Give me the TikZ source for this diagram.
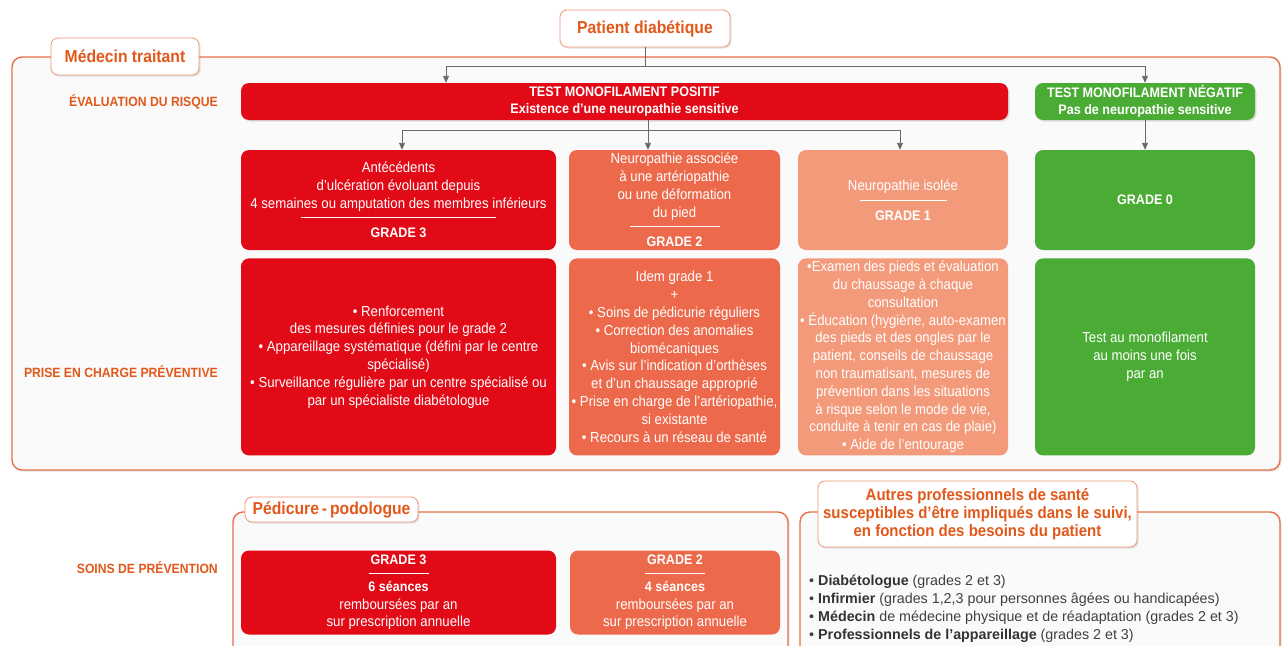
\documentclass[tikz,border=0pt]{standalone}
\usepackage{fontspec}
\setmainfont{Liberation Sans}[FakeStretch=0.91]
\newfontfamily\listfont{Liberation Sans}
\usetikzlibrary{arrows.meta,positioning,shadows}
\definecolor{g3color}{RGB}{226,10,22}
\definecolor{g2color}{RGB}{237,105,75}
\definecolor{g1color}{RGB}{243,154,123}
\definecolor{g0color}{RGB}{74,172,52}
\definecolor{titlecolor}{RGB}{226,88,26}
\definecolor{framecolor}{RGB}{232,112,72}
\definecolor{linkcolor}{RGB}{105,105,105}
\definecolor{listcolor}{RGB}{64,64,64}
\newcommand{\boxfont}{\fontsize{14.5}{17.8}\selectfont}
\newcommand{\sepline}[1]{\textcolor{white}{\rule[2pt]{#1pt}{0.7pt}}}
\newcommand{\grade}[1]{{\bfseries\fontsize{13.8}{17.8}\selectfont #1}}
\newcommand{\who}[1]{\textbf{\textcolor{black!80}{#1}}}

\begin{document}
\begin{tikzpicture}[
    x=1pt, y=-1pt,
    softshadow/.style={drop shadow={shadow xshift=1.5pt, shadow yshift=-1.5pt, opacity=0.22}},
    frame/.style={draw=framecolor, line width=1.4pt, rounded corners=10pt, fill=black!2, softshadow},
    tag/.style={draw=framecolor!75, line width=0.8pt, fill=white, rounded corners=7pt, text=titlecolor, font=\bfseries\fontsize{17.3}{20}\selectfont, align=center, inner sep=0pt, softshadow},
    bar/.style={rounded corners=8pt, text=white, font=\bfseries\fontsize{13.8}{17}\selectfont, align=center, minimum height=37pt, inner sep=0pt, softshadow},
    gradebox/.style={rounded corners=8pt, text=white, font=\boxfont, align=center, inner sep=0pt},
    stage/.style={text=titlecolor, font=\bfseries\fontsize{13.4}{15}\selectfont, anchor=east, inner sep=0pt},
    link/.style={draw=linkcolor, line width=0.9pt},
    arrow/.style={link, -{Triangle[length=7pt,width=6pt]}}
]
    \fill[white] (0,0) rectangle (1284,645);
    \useasboundingbox (0,0) rectangle (1284,645);
    \clip (0,0) rectangle (1284,645);

    % frames
    \draw[frame] (12,57) rectangle (1280,470);
    \draw[frame] (233,512) rectangle (788,680);
    \draw[frame] (800,512) rectangle (1280,680);

    % tags
    \node[tag, minimum width=170pt, minimum height=37pt] (patient) at (645,28.5) {Patient diabétique};
    \node[tag, minimum width=148pt, minimum height=37pt] (medecin) at (125,56.5) {Médecin traitant};
    \node[tag, minimum width=173pt, minimum height=25pt] (pedicure) at (331.5,509.5) {Pédicure\,-\,podologue};
    \node[tag, minimum width=319pt, minimum height=66pt, font=\bfseries\fontsize{16.5}{18}\selectfont] (autres) at (977.5,514)
        {Autres professionnels de santé\\susceptibles d’être impliqués dans le suivi,\\en fonction des besoins du patient};

    % stages
    \node[stage] (evaluation) at (218,102) {ÉVALUATION DU RISQUE};
    \node[stage] (prise) at (218,372) {PRISE EN CHARGE PRÉVENTIVE};
    \node[stage] (soins) at (218,568) {SOINS DE PRÉVENTION};

    % monofilament test
    \node[bar, fill=g3color, minimum width=767pt] (posbar) at (624.5,101.5)
        {TEST MONOFILAMENT POSITIF\\Existence d'une neuropathie sensitive};
    \node[bar, fill=g0color, minimum width=220pt] (negbar) at (1145,101.5)
        {TEST MONOFILAMENT NÉGATIF\\Pas de neuropathie sensitive};

    % grades
    \node[gradebox, fill=g3color, minimum width=315pt, minimum height=100pt] (g3) at (398.5,200)
        {Antécédents\\d'ulcération évoluant depuis\\4 semaines ou amputation des membres inférieurs\\[-6pt]\sepline{195}\\\grade{GRADE 3}};
    \node[gradebox, fill=g2color, minimum width=211pt, minimum height=100pt] (g2) at (674.5,200)
        {Neuropathie associée\\à une artériopathie\\ou une déformation\\du pied\\[-6pt]\sepline{90}\\\grade{GRADE 2}};
    \node[gradebox, fill=g1color, minimum width=210pt, minimum height=100pt] (g1) at (903,200)
        {Neuropathie isolée\\[-6pt]\sepline{87}\\\grade{GRADE 1}};
    \node[gradebox, fill=g0color, minimum width=220pt, minimum height=100pt] (g0) at (1145,200) {\grade{GRADE 0}};

    % preventive care
    \node[gradebox, fill=g3color, minimum width=315pt, minimum height=197pt, below=8pt of g3] (care3)
        {• Renforcement\\des mesures définies pour le grade 2\\• Appareillage systématique (défini par le centre\\spécialisé)\\• Surveillance régulière par un centre spécialisé ou\\par un spécialiste diabétologue};
    \node[gradebox, fill=g2color, minimum width=211pt, minimum height=197pt, below=8pt of g2] (care2)
        {Idem grade 1\\+\\• Soins de pédicurie réguliers\\• Correction des anomalies\\biomécaniques\\• Avis sur l'indication d'orthèses\\et d'un chaussage approprié\\• Prise en charge de l'artériopathie,\\si existante\\• Recours à un réseau de santé};
    \node[gradebox, fill=g1color, minimum width=210pt, minimum height=197pt, below=8pt of g1] (care1)
        {•Examen des pieds et évaluation\\du chaussage à chaque\\consultation\\• Éducation (hygiène, auto-examen\\des pieds et des ongles par le\\patient, conseils de chaussage\\non traumatisant, mesures de\\prévention dans les situations\\à risque selon le mode de vie,\\conduite à tenir en cas de plaie)\\• Aide de l'entourage};
    \node[gradebox, fill=g0color, minimum width=220pt, minimum height=197pt, below=8pt of g0] (care0)
        {Test au monofilament\\au moins une fois\\par an};

    % podiatry sessions
    \node[gradebox, fill=g3color, minimum width=315pt, minimum height=84pt] (pod3) at (398.5,592.5)
        {\grade{GRADE 3}\\[-7pt]\sepline{60}\\[-2pt]\grade{6 séances}\\remboursées par an\\sur prescription annuelle};
    \node[gradebox, fill=g2color, minimum width=210pt, minimum height=84pt] (pod2) at (675,592.5)
        {\grade{GRADE 2}\\[-7pt]\sepline{60}\\[-2pt]\grade{4 séances}\\remboursées par an\\sur prescription annuelle};

    % other professionals
    \node[anchor=north west, align=left, text=listcolor, font=\listfont\fontsize{14.3}{18}\selectfont, inner sep=0pt] (autreslist) at (809,575)
        {• \who{Diabétologue} (grades 2 et 3)\\• \who{Infirmier} (grades 1,2,3 pour personnes âgées ou handicapées)\\• \who{Médecin} de médecine physique et de réadaptation (grades 2 et 3)\\• \who{Professionnels de l’appareillage} (grades 2 et 3)};

    % connectors
    \coordinate (hub1) at (645,66);
    \coordinate (hub2) at (648,130);
    \draw[link] (patient) -- (hub1);
    \draw[arrow] (hub1) -| ([xshift=-178.5pt]posbar.north);
    \draw[arrow] (hub1) -| (negbar.north);
    \draw[link] (posbar.south -| hub2) -- (hub2);
    \draw[arrow] (hub2) -| ([xshift=3.5pt]g3.north);
    \draw[arrow] (hub2) -- (hub2 |- g2.north);
    \draw[arrow] (hub2) -| ([xshift=-3pt]g1.north);
    \draw[arrow] (negbar) -- (g0);
\end{tikzpicture}
\end{document}
